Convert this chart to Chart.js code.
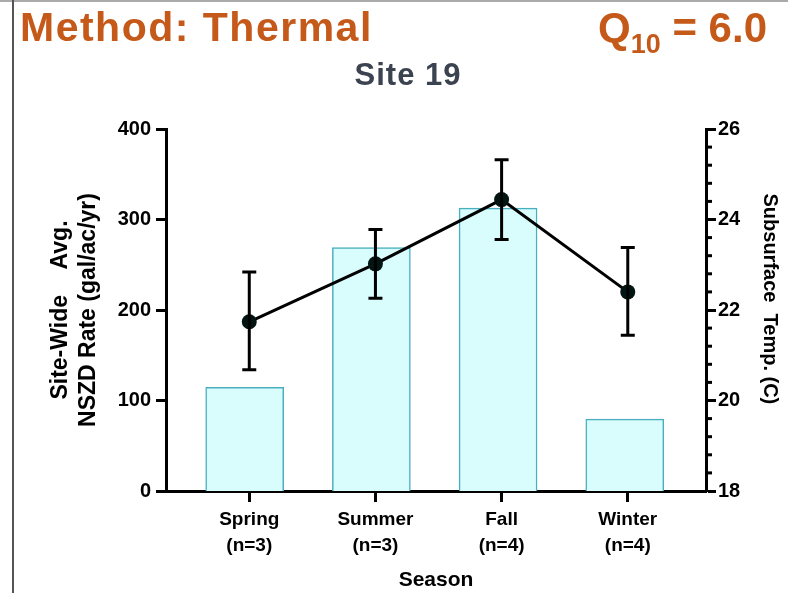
<!DOCTYPE html>
<html>
<head>
<meta charset="utf-8">
<script src="https://cdn.jsdelivr.net/npm/chart.js@4.4.1/dist/chart.umd.min.js"></script>
<style>
  html, body { margin: 0; padding: 0; background: #fff; }
  #wrap { position: relative; width: 788px; height: 593px; overflow: hidden; }
  #c { position: absolute; left: 0; top: 0; }
  .hdr { position: absolute; font-family: "Liberation Sans", Arial, sans-serif; font-weight: bold; color: #c5591a; white-space: nowrap; line-height: 1; }
  #method { left: 20px; top: 7px; font-size: 41px; letter-spacing: 1.5px; }
  #q10 { right: 21px; top: 7px; font-size: 42px; }
  #q10 sub { font-size: 27px; vertical-align: -11px; line-height: 0; }
  #site { position: absolute; left: 0; width: 816px; text-align: center; top: 57px; font-family: "Liberation Sans", Arial, sans-serif; font-weight: bold; font-size: 31px; letter-spacing: 1px; color: #3c4350; }
  #vline { position: absolute; left: 12px; top: 0; width: 2px; height: 593px; background: #555; }
  #hline { position: absolute; left: 0; top: 0; width: 788px; height: 2px; background: #aaa; }
</style>
</head>
<body>
<div id="wrap">
  <canvas id="c" width="788" height="593"></canvas>
  <div id="hline"></div>
  <div id="vline"></div>
  <div class="hdr" id="method">Method: Thermal</div>
  <div class="hdr" id="q10">Q<sub>10</sub> = 6.0</div>
  <div id="site">Site 19</div>
</div>
<script>
// ---- data ----
const categories = ['Spring', 'Summer', 'Fall', 'Winter'];
const sampleSizes = ['(n=3)', '(n=3)', '(n=4)', '(n=4)'];
const nszdRate = [187, 251, 322, 220];
const nszdErrLow = [134, 213, 278, 172];
const nszdErrHigh = [242, 289, 366, 269];
const subsurfaceTemp = [20.29, 23.38, 24.25, 19.59];
const rateTicks = [0, 100, 200, 300, 400];
const tempTicks = [18, 20, 22, 24, 26];
const tempMinorTicks = [18.4, 18.8, 19.2, 19.6, 20.4, 20.8, 21.2, 21.6, 22.4, 22.8, 23.2, 23.6, 24.4, 24.8, 25.2, 25.6];

const FONT = "'Liberation Sans', Arial, sans-serif";

const errorBars = {
  id: 'errorBars',
  afterDatasetsDraw(chart) {
    const ctx = chart.ctx;
    const xs = chart.scales.x, ys = chart.scales.y;
    ctx.save();
    ctx.strokeStyle = '#000';
    ctx.lineWidth = 3;
    categories.forEach((c, i) => {
      const x = xs.getPixelForValue(i);
      const yl = ys.getPixelForValue(nszdErrLow[i]);
      const yh = ys.getPixelForValue(nszdErrHigh[i]);
      ctx.beginPath();
      ctx.moveTo(x, yl); ctx.lineTo(x, yh);
      ctx.moveTo(x - 7, yl); ctx.lineTo(x + 7, yl);
      ctx.moveTo(x - 7, yh); ctx.lineTo(x + 7, yh);
      ctx.stroke();
    });
    ctx.restore();
  }
};

const minorTicks = {
  id: 'minorTicks',
  afterDraw(chart) {
    const ctx = chart.ctx;
    const s = chart.scales.yR;
    const x0 = chart.chartArea.right;
    ctx.save();
    ctx.strokeStyle = '#000';
    ctx.lineWidth = 3;
    tempMinorTicks.forEach(v => {
      const y = s.getPixelForValue(v);
      ctx.beginPath();
      ctx.moveTo(x0, y); ctx.lineTo(x0 + 6, y);
      ctx.stroke();
    });
    ctx.restore();
  }
};

const barData = subsurfaceTemp.map((v, i) => ({ x: i, y: v }));
const lineData = nszdRate.map((v, i) => ({ x: i, y: v }));

new Chart(document.getElementById('c'), {
  data: {
    datasets: [
      {
        type: 'line',
        data: lineData,
        xAxisID: 'x',
        yAxisID: 'y',
        borderColor: '#000',
        borderWidth: 3,
        pointRadius: 7.5,
        pointBackgroundColor: '#031513',
        pointBorderColor: '#031513',
        pointBorderWidth: 0,
        order: 0
      },
      {
        type: 'bar',
        data: barData,
        xAxisID: 'xb',
        yAxisID: 'yR',
        backgroundColor: '#d9fdfd',
        borderColor: '#49aebf',
        borderWidth: 1.5,
        barThickness: 78,
        grouped: false,
        order: 1
      }
    ]
  },
  options: {
    responsive: false,
    animation: false,
    devicePixelRatio: 1,
    layout: { padding: { top: 129, left: 0, right: 0, bottom: 0 } },
    plugins: { legend: { display: false }, tooltip: { enabled: false } },
    scales: {
      x: {
        type: 'linear',
        position: 'bottom',
        min: -0.66,
        max: 3.62,
        offset: false,
        afterBuildTicks(scale) { scale.ticks = categories.map((c, i) => ({ value: i })); },
        afterFit(scale) { scale.height = 102; },
        ticks: {
          autoSkip: false,
          maxRotation: 0,
          padding: 4,
          color: '#000',
          font: { family: FONT, weight: 'bold', size: 19, lineHeight: 1.4 },
          callback: (v) => [categories[v], sampleSizes[v]]
        },
        grid: { drawOnChartArea: false, drawTicks: true, tickLength: 11, tickWidth: 3, tickColor: '#000' },
        border: { display: true, width: 3, color: '#000' },
        title: { display: true, text: 'Season', color: '#000', font: { family: FONT, weight: 'bold', size: 21, lineHeight: 1.2 }, padding: { top: 0, bottom: 0 } }
      },
      xb: {
        type: 'linear',
        position: 'bottom',
        display: true,
        offset: false,
        min: -0.621,
        max: 3.641,
        afterFit(scale) { scale.height = 0; },
        ticks: { display: false },
        grid: { display: false, drawTicks: false },
        border: { display: false },
        title: { display: false }
      },
      y: {
        type: 'linear',
        position: 'left',
        min: 0,
        max: 400,
        afterBuildTicks(scale) { scale.ticks = rateTicks.map(v => ({ value: v })); },
        afterFit(scale) { scale.width = 166; },
        ticks: { padding: 5, color: '#000', font: { family: FONT, weight: 'bold', size: 20 } },
        grid: { drawOnChartArea: false, drawTicks: true, tickLength: 10, tickWidth: 3, tickColor: '#000' },
        border: { display: true, width: 3, color: '#000' },
        title: { display: true, text: ['Site-Wide    Avg.', 'NSZD Rate (gal/ac/yr)'], color: '#000', font: { family: FONT, weight: 'bold', size: 23, lineHeight: 1.25 }, padding: { top: 46, bottom: 0 } }
      },
      yR: {
        type: 'linear',
        position: 'right',
        min: 18,
        max: 26,
        afterBuildTicks(scale) { scale.ticks = tempTicks.map(v => ({ value: v })); },
        afterFit(scale) { scale.width = 82; },
        ticks: { padding: 2, color: '#000', font: { family: FONT, weight: 'bold', size: 20 } },
        grid: { drawOnChartArea: false, drawTicks: true, tickLength: 10, tickWidth: 3, tickColor: '#000' },
        border: { display: true, width: 3, color: '#000' },
        title: { display: true, text: 'Subsurface  Temp. (C)    ', color: '#000', font: { family: FONT, weight: 'bold', size: 20, lineHeight: 1.2 }, padding: { top: 6, bottom: 0 } }
      }
    }
  },
  plugins: [errorBars, minorTicks]
});
</script>
</body>
</html>
